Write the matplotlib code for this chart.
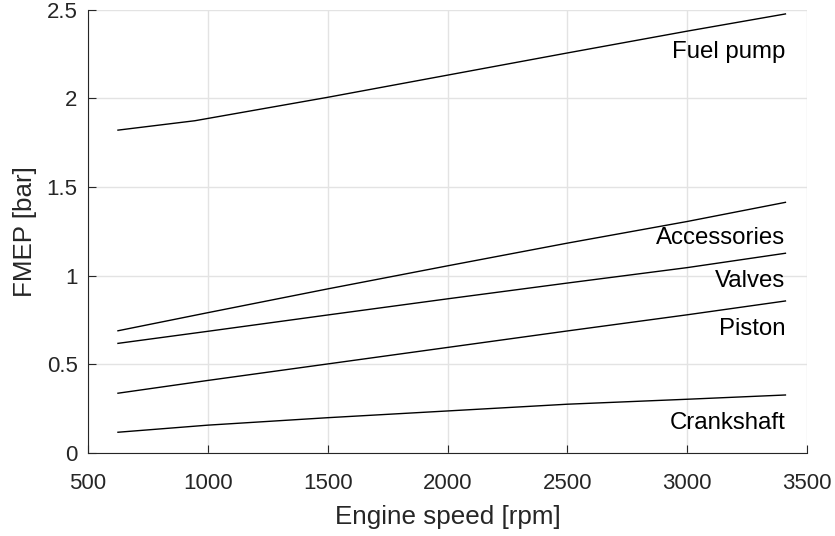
import matplotlib
matplotlib.use("Agg")
import matplotlib.pyplot as plt

plt.rcParams["font.family"] = ["Liberation Sans", "DejaVu Sans"]

speed = [625, 1000, 1500, 2000, 2500, 3000, 3410]
fuel_speed = [625, 946, 1500, 2000, 2500, 3000, 3410]

fuel_pump = [1.82, 1.873, 2.005, 2.13, 2.255, 2.378, 2.475]
accessories = [0.689, 0.791, 0.925, 1.055, 1.183, 1.305, 1.413]
valves = [0.618, 0.686, 0.778, 0.869, 0.958, 1.045, 1.126]
piston = [0.337, 0.409, 0.502, 0.595, 0.688, 0.779, 0.857]
crankshaft = [0.117, 0.157, 0.199, 0.237, 0.275, 0.303, 0.327]

labels = ["Fuel pump", "Accessories", "Valves", "Piston", "Crankshaft"]
label_y = [2.26, 1.21, 0.97, 0.70, 0.17]

fig = plt.figure(figsize=(8.35, 5.36), dpi=100)
ax = fig.add_axes([88 / 835, 1 - 453 / 536, 719 / 835, 443.5 / 536])

ax.plot(fuel_speed, fuel_pump, color="black", lw=1.0)
for series in [accessories, valves, piston, crankshaft]:
    ax.plot(speed, series, color="black", lw=1.0)

for name, y in zip(labels, label_y):
    ax.text(3410, y, name, ha="right", va="center", fontsize=17.3, color="black")

ax.set_xlim(500, 3500)
ax.set_ylim(0, 2.5)
ax.set_xticks(range(500, 3501, 500))
ax.set_yticks([0, 0.5, 1, 1.5, 2, 2.5])
ax.set_yticklabels(["0", "0.5", "1", "1.5", "2", "2.5"])
ax.set_xlabel("Engine speed [rpm]", fontsize=18.7, color="#262626", labelpad=8)
ax.set_ylabel("FMEP [bar]", fontsize=18.7, color="#262626", labelpad=6.8)

# MATLAB-like look: light grid, no box, ticks inside
ax.grid(True, color="#e3e3e3", lw=1.0)
ax.set_axisbelow(True)
for side in ["top", "right"]:
    ax.spines[side].set_visible(False)
for side in ["left", "bottom"]:
    ax.spines[side].set_color("#262626")
ax.tick_params(direction="in", length=6, colors="#262626", labelsize=16)
ax.tick_params(axis="x", pad=14.4)
ax.tick_params(axis="y", pad=7.5)

fig.savefig("out.png", dpi=100)
